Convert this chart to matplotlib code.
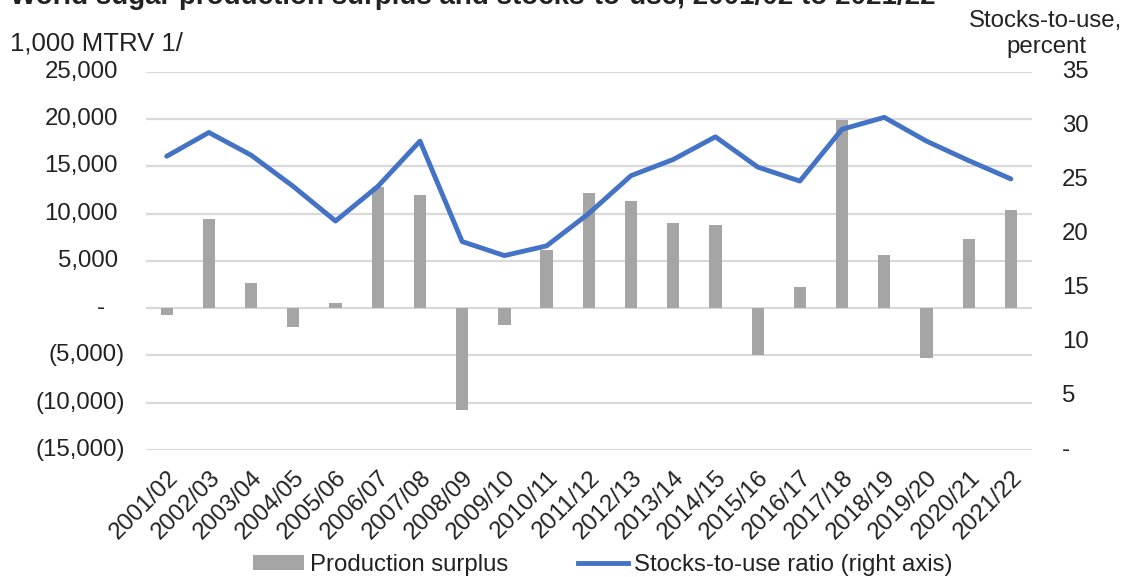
import matplotlib
matplotlib.use("Agg")
import matplotlib.pyplot as plt
from matplotlib.patches import Patch
from matplotlib.lines import Line2D
from matplotlib.transforms import offset_copy

plt.rcParams['font.family'] = ['Liberation Sans', 'DejaVu Sans']

# Marketing years
years = ["2001/02", "2002/03", "2003/04", "2004/05", "2005/06", "2006/07", "2007/08",
         "2008/09", "2009/10", "2010/11", "2011/12", "2012/13", "2013/14", "2014/15",
         "2015/16", "2016/17", "2017/18", "2018/19", "2019/20", "2020/21", "2021/22"]

# Production surplus, 1,000 MTRV
surplus = [-700, 9430, 2670, -1940, 530, 12780, 12000, -10740, -1800, 6200, 12150,
           11330, 9040, 8770, -4930, 2250, 19890, 5630, -5280, 7290, 10380]

# Stocks-to-use ratio, percent
ratio = [27.2, 29.4, 27.3, 24.4, 21.2, 24.4, 28.6, 19.3, 18.0, 18.9, 21.9,
         25.4, 26.9, 29.0, 26.2, 24.9, 29.7, 30.8, 28.6, 26.8, 25.1]

left_ticks = [-15000, -10000, -5000, 0, 5000, 10000, 15000, 20000, 25000]
right_ticks = [0, 5, 10, 15, 20, 25, 30, 35]

BAR = "#A5A5A5"
LINE = "#4472C4"
GRID = "#D9D9D9"
TXT = "#222222"
FS = 17.3

W, H = 1128, 577
fig = plt.figure(figsize=(W / 100, H / 100), dpi=100, facecolor="white")
ax = fig.add_axes([145.6 / W, 1 - 450 / H, (1032 - 145.6) / W, (450 - 72) / H])
ax2 = ax.twinx()

x = list(range(len(years)))
ax.bar(x, surplus, width=0.29, color=BAR, zorder=2)
ax2.plot(x, ratio, color=LINE, lw=3.5, solid_capstyle="round", solid_joinstyle="round", zorder=3)

ax.set_xlim(-0.5, len(years) - 0.5)
ax.set_ylim(-15000, 25000)
ax2.set_ylim(0, 35)

for a in (ax, ax2):
    for s in a.spines.values():
        s.set_visible(False)
    a.tick_params(axis="y", length=0, labelleft=False, labelright=False)

ax.set_yticks(left_ticks)
ax2.set_yticks(right_ticks)
ax.grid(axis="y", color=GRID, lw=1.6, zorder=0)
ax.set_axisbelow(True)

# Left axis labels in accounting style: negatives in parentheses, zero as a dash
ytr = ax.get_yaxis_transform()
for v in left_ticks:
    if v > 0:
        lab, dx, ha = f"{v:,}", -27.6, "right"
    elif v < 0:
        lab, dx, ha = f"({-v:,})", -20.6, "right"
    else:
        lab, dx, ha = "-", -45, "center"
    ax.text(0, v, lab, transform=offset_copy(ytr, fig=fig, x=dx, y=0, units="dots"),
            ha=ha, va="center", fontsize=FS, color=TXT)

ytr2 = ax2.get_yaxis_transform()
for v in right_ticks:
    lab = "-" if v == 0 else f"{v}"
    ax2.text(1, v, lab, transform=offset_copy(ytr2, fig=fig, x=30, y=0, units="dots"),
             ha="left", va="center", fontsize=FS, color=TXT)

ax.set_xticks(x)
ax.set_xticklabels(years, rotation=45, ha="right", va="top", rotation_mode="anchor",
                   fontsize=FS, color=TXT)
ax.tick_params(axis="x", length=0, pad=12)

fig.text(10 / W, 1 - 4 / H, "World sugar production surplus and stocks-to-use, 2001/02 to 2021/22",
         fontsize=20, fontweight="bold", ha="left", va="baseline", color=TXT)
fig.text(10 / W, 1 - 43 / H, "1,000 MTRV 1/", fontsize=18.5, ha="left", va="center", color=TXT)
fig.text(1046 / W, 1 - 34 / H, "Stocks-to-use,\npercent", fontsize=FS, ha="center", va="center",
         color=TXT, linespacing=1.2)

handles = [Patch(facecolor=BAR, edgecolor="none", label="Production surplus"),
           Line2D([0], [0], color=LINE, lw=3.5, label="Stocks-to-use ratio (right axis)")]
fig.legend(handles=handles, loc="center", bbox_to_anchor=(603 / W, 1 - 565 / H), ncol=2,
           frameon=False, fontsize=FS, handlelength=2.1, handleheight=0.55,
           handletextpad=0.25, columnspacing=2.9, borderpad=0, labelcolor=TXT)

fig.savefig("out.png", dpi=100, facecolor="white")
